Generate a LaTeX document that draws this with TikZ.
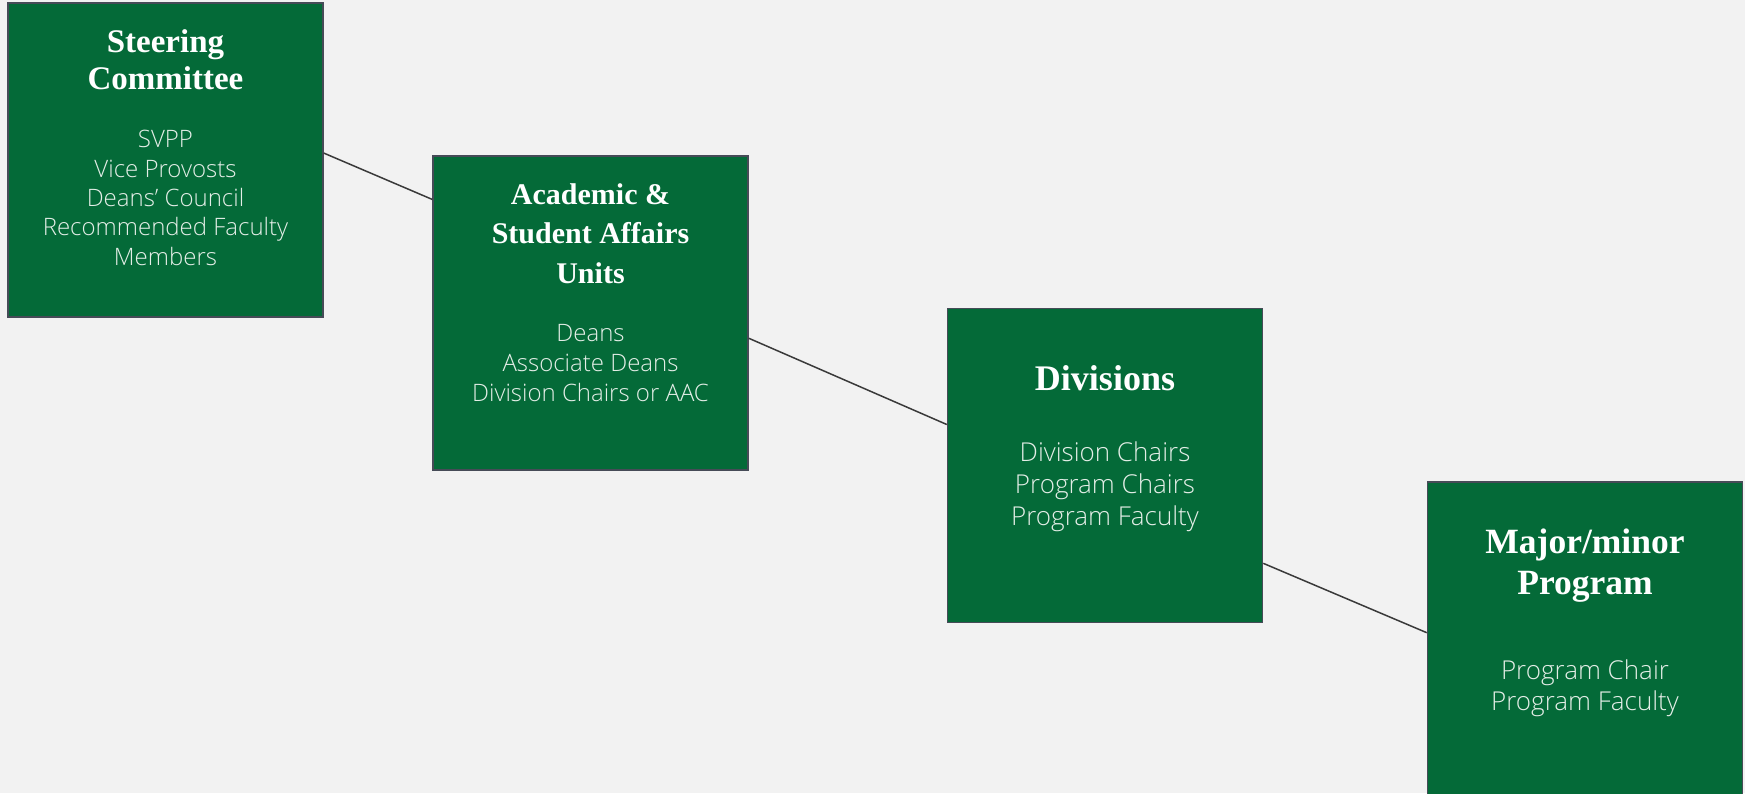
\documentclass[tikz,border=0pt]{standalone}
\usepackage{fontspec}
\usepackage{tikz}
\usetikzlibrary{positioning,calc}
\setmainfont{Liberation Serif}
\newfontfamily\titlefont{Liberation Serif}
\newfontfamily\bodyfont{Open Sans Light}

\definecolor{bggray}{HTML}{F2F2F2}
\definecolor{unitgreen}{HTML}{046A38}
\definecolor{edgegray}{HTML}{464B57}
\definecolor{linkgray}{HTML}{3A3A3A}
\definecolor{bodywhite}{HTML}{E4EEE7}

\tikzset{
  unit/.style={draw=edgegray, line width=1.5pt, fill=unitgreen,
    minimum width=315pt, minimum height=314pt, inner sep=0pt},
  unittitle/.style={inner sep=0pt, align=center, text=white,
    font=\titlefont\bfseries},
  unitbody/.style={inner sep=0pt, align=center, text=bodywhite},
  link/.style={draw=linkgray, line width=1.5pt},
}

\begin{document}
\begin{tikzpicture}[%
      x=1pt, y=-1pt,
      ]
      \path [use as bounding box, fill=bggray] (0,0) rectangle (1745,793);

      % the four levels
      \node [unit] (steer) at (165.5,160) {};
      \node [unit] (acad)  at (590.5,313) {};
      \node [unit] (divs)  at (1105,465.5) {};
      \node [unit] (prog)  at (1585,639) {};

      \node [unittitle, below=27pt of steer.north,
             font=\titlefont\bfseries\fontsize{33}{37}\selectfont] (steert)
            {Steering\\Committee};
      \node [unittitle, below=28pt of acad.north,
             font=\titlefont\bfseries\fontsize{30}{39.5}\selectfont] (acadt)
            {Academic \&\\Student Affairs\\Units};
      \node [unittitle, below=58pt of divs.north,
             font=\titlefont\bfseries\fontsize{36}{40}\selectfont] (divst)
            {Divisions};
      \node [unittitle, below=47pt of prog.north,
             font=\titlefont\bfseries\fontsize{35.5}{41.7}\selectfont] (progt)
            {Major/minor\\Program};

      \node [unitbody, below=128pt of steer.north,
             font=\bodyfont\fontsize{24}{29.3}\selectfont] (steerb)
            {SVPP\\Vice Provosts\\Deans’ Council\\Recommended Faculty\\Members};
      \node [unitbody, below=169pt of acad.north,
             font=\bodyfont\fontsize{24}{30}\selectfont] (acadb)
            {Deans\\Associate Deans\\Division Chairs or AAC};
      \node [unitbody, below=134pt of divs.north,
             font=\bodyfont\fontsize{26}{32}\selectfont] (divsb)
            {Division Chairs\\Program Chairs\\Program Faculty};
      \node [unitbody, below=178pt of prog.north,
             font=\bodyfont\fontsize{26}{31.7}\selectfont] (progb)
            {Program Chair\\Program Faculty};

      % connectors
      \draw [link] ($(steer.north east)!0.478!(steer.south east)$)
                -- ($(acad.north west)!0.14!(acad.south west)$);
      \draw [link] ($(acad.north east)!0.58!(acad.south east)$)
                -- ($(divs.north west)!0.37!(divs.south west)$);
      \draw [link] ($(divs.north east)!0.81!(divs.south east)$)
                -- ($(prog.north west)!0.48!(prog.south west)$);
\end{tikzpicture}
\end{document}
